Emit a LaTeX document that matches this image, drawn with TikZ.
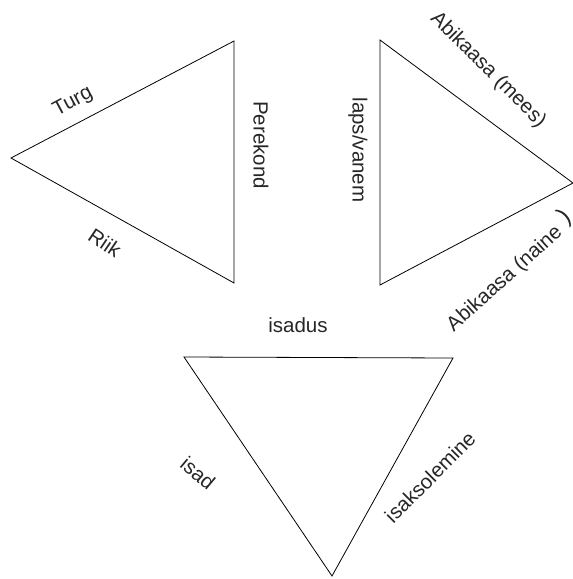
\documentclass[tikz,border=0pt]{standalone}
\usepackage{fontspec}
\setmainfont{Liberation Sans}
\begin{document}
\begin{tikzpicture}[x=1pt,y=-1pt,
  edge/.style={draw=black,line width=0.8pt},
  lbl/.style={font=\fontsize{20.5}{23}\selectfont,inner sep=0pt,text=black!85}]
\useasboundingbox (0,0) rectangle (573,579);
% triangle 1
\coordinate (a1) at (11,158);
\coordinate (a2) at (234,41);
\coordinate (a3) at (234,283);
\draw[edge] (a1) -- (a2) -- (a3) -- cycle;
% triangle 2
\coordinate (b1) at (380,40);
\coordinate (b2) at (573,183);
\coordinate (b3) at (380,285);
\draw[edge] (b1) -- (b2) -- (b3) -- cycle;
% triangle 3
\coordinate (c1) at (184,357);
\coordinate (c2) at (453,358);
\coordinate (c3) at (332,576);
\draw[edge] (c1) -- (c2) -- (c3) -- cycle;
% labels
\node[lbl,rotate=28] (turg) at (73,102) {Turg};
\node[lbl,rotate=-34] (riik) at (105,243) {Riik};
\node[lbl,rotate=-90] (perekond) at (261,145) {Perekond};
\node[lbl,rotate=-90] (lapsvanem) at (358,150) {laps/vanem};
\node[lbl,rotate=-45] (mees) at (488,70) {Abikaasa (mees)};
\node[lbl,rotate=42] (naine) at (505,279) {Abikaasa (naine};
\node[lbl,rotate=42,font=\fontsize{24}{26}\selectfont] (paren) at (565,217) {)};
\node[lbl] (isadus) at (298,325) {isadus};
\node[lbl,rotate=-40] (isad) at (198,473) {isad};
\node[lbl,rotate=45] (isaks) at (430,477) {isaksolemine};
\end{tikzpicture}
\end{document}
